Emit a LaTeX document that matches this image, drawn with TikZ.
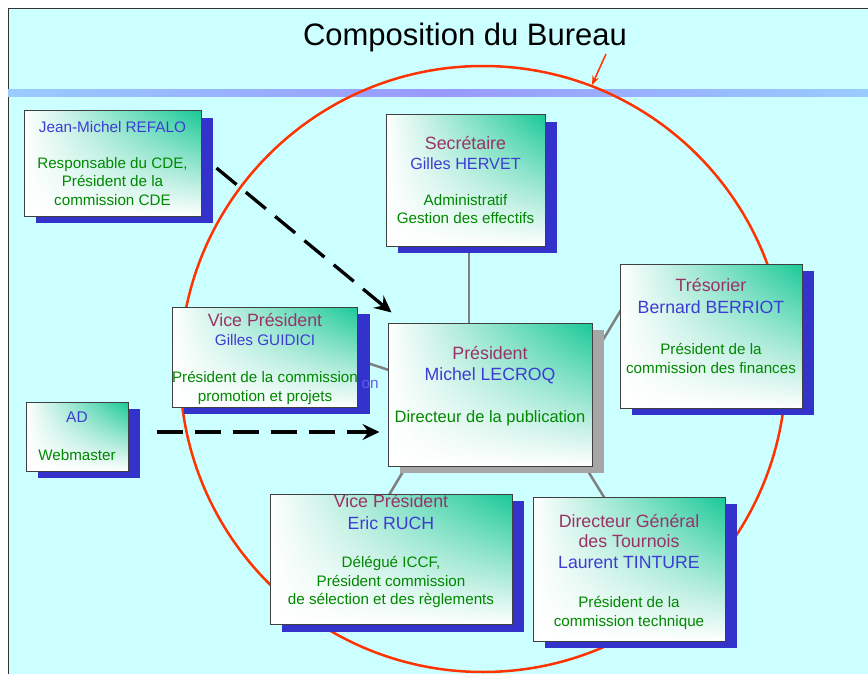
\documentclass[tikz,border=0pt]{standalone}
\usepackage{fontspec}
\setmainfont{Liberation Sans}
\usetikzlibrary{arrows.meta,shadows,shadings,backgrounds}

\definecolor{fond}{RGB}{204,255,255}
\definecolor{bandeclair}{RGB}{153,204,255}
\definecolor{bandemilieu}{RGB}{153,153,255}
\definecolor{rouge}{RGB}{255,51,0}
\definecolor{ombrebleu}{RGB}{51,51,204}
\definecolor{ombregris}{RGB}{166,166,166}
\definecolor{coin}{RGB}{25,200,150}
\definecolor{violetrole}{RGB}{153,51,102}
\definecolor{bleunom}{RGB}{60,60,210}
\definecolor{bleuclair}{RGB}{95,95,235}
\definecolor{vertmission}{RGB}{0,136,0}
\definecolor{liengris}{RGB}{128,128,128}

\newcommand{\fonction}[1]{{\color{violetrole}\fontsize{17.8}{18.5}\selectfont #1}}
\newcommand{\nommembre}[2][17.7]{{\color{bleunom}\fontsize{#1}{18.5}\selectfont #2}}
\newcommand{\mission}[1]{{\color{vertmission}#1}}

\tikzset{
  membre/.style={draw=black!75, line width=1pt,
    upper left=white, upper right=coin, lower left=white, lower right=white,
    align=center, inner sep=0pt, font=\fontsize{15.2}{18.5}\selectfont,
    drop shadow={shadow xshift=12pt, shadow yshift=-7pt, fill=#1, draw=none, opacity=1}},
  membre/.default=ombrebleu,
  lien/.style={draw=liengris, line width=2.5pt},
  renvoi/.style={line width=3.3pt, dash pattern=on 26pt off 12pt,
    -{Stealth[length=17pt,width=16pt,inset=6pt]}},
}

\begin{document}
\begin{tikzpicture}[x=1pt,y=-1pt]
  \useasboundingbox (0,0) rectangle (868,674);
  % Title
  \node (titre) [anchor=base, font=\fontsize{31}{36}\selectfont] at (465,46) {Composition du Bureau};
  % Members
  \node (refalo) [membre, minimum width=177pt, minimum height=105pt] at (112.5,163.5)
    {\nommembre[15.3]{Jean-Michel REFALO}\\[17pt]
     \mission{Responsable du CDE,}\\\mission{Président de la}\\\mission{commission CDE}};
  \node (sec) [membre, minimum width=159pt, minimum height=131pt] at (465.5,180.5)
    {\fonction{Secrétaire}\\[1.5pt]\nommembre[16.2]{Gilles HERVET}\\[17pt]
     \mission{Administratif}\\\mission{Gestion des effectifs}};
  \node (guidici) [membre, minimum width=176pt, minimum height=100pt] at (265,357)
    {\rule{0pt}{17pt}\fonction{Vice Président}\\\nommembre[15.3]{Gilles GUIDICI}\\[19pt]
     \mission{Président de la commission}\\\mission{promotion et projets}};
  \node (pres) [membre=ombregris, minimum width=204pt, minimum height=143pt,
    font=\fontsize{16.5}{21}\selectfont] at (490,394.5)
    {\fonction{Président}\\\nommembre{Michel LECROQ}\\[21pt]
     \mission{Directeur de la publication}\rule[-20pt]{0pt}{0pt}};
  \node (tres) [membre, minimum width=182pt, minimum height=144pt] at (711,336)
    {\fonction{Trésorier}\\[3.5pt]\nommembre{Bernard BERRIOT}\\[22.5pt]
     \mission{Président de la}\\\mission{commission des finances}\rule[-20pt]{0pt}{0pt}};
  \node (ad) [membre, minimum width=102pt, minimum height=69pt] at (77,436.5)
    {\nommembre[15.5]{AD}\\[19.5pt]\mission{Webmaster}};
  \node (ruch) [membre, minimum width=242pt, minimum height=125pt] at (391,559.5)
    {\fonction{Vice Président}\\[3.5pt]\nommembre{Eric RUCH}\\[19.5pt]
     \mission{Délégué ICCF,}\\\mission{Président commission}\\
     \mission{de sélection et des règlements}\rule[-20pt]{0pt}{0pt}};
  \node (tour) [membre, minimum width=192pt, minimum height=144pt] at (629,569)
    {\rule{0pt}{19pt}\fonction{Directeur Général}\\[1.5pt]\fonction{des Tournois}\\[2.5pt]
     \nommembre{Laurent TINTURE}\\[20.5pt]
     \mission{Président de la}\\\mission{commission technique}};
  \node (reste) [anchor=base west, text=bleuclair, font=\fontsize{15.3}{18}\selectfont] at (358,388) {on};
  % Background, circle and links
  \begin{scope}[on background layer]
    \fill[fond] (8,9) rectangle (872,678);
    \draw[black!80, line width=1pt] (8,678) -- (8,9) -- (872,9);
    \shade[left color=bandeclair, right color=bandeclair, middle color=bandemilieu] (8,90) rectangle (868,97);
    \node (cercle) [circle, draw=rouge, line width=2.5pt, minimum size=606pt, inner sep=0pt] at (483,369) {};
    \draw[lien] ([xshift=3.5pt]sec.center) -- ([xshift=3.5pt]sec.center |- pres.center);
    \draw[lien] ([shift={(75,-3)}]guidici.center) -- ([shift={(-80,-17.5)}]pres.center);
    \draw[lien] ([shift={(90,-16.5)}]pres.center) -- ([shift={(-81,-41)}]tres.center);
    \draw[lien] ([shift={(-74,55.5)}]pres.center) -- ([shift={(-11,-49.5)}]ruch.center);
    \draw[lien] ([shift={(88,60.5)}]pres.center) -- ([shift={(-17,-59)}]tour.center);
  \end{scope}
  % Arrows
  \coordinate (fleche) at (606,54);
  \draw[rouge, line width=1.5pt, -{Stealth[length=9pt,width=7pt]}] (fleche) -- (cercle.69);
  \draw[renvoi] ([shift={(15,4.5)}]refalo.east) -- ([shift={(4,-10)}]pres.north west);
  \draw[renvoi] ([shift={(28,-4.5)}]ad.east) -- ([shift={(-8,37.5)}]pres.west);
\end{tikzpicture}
\end{document}
